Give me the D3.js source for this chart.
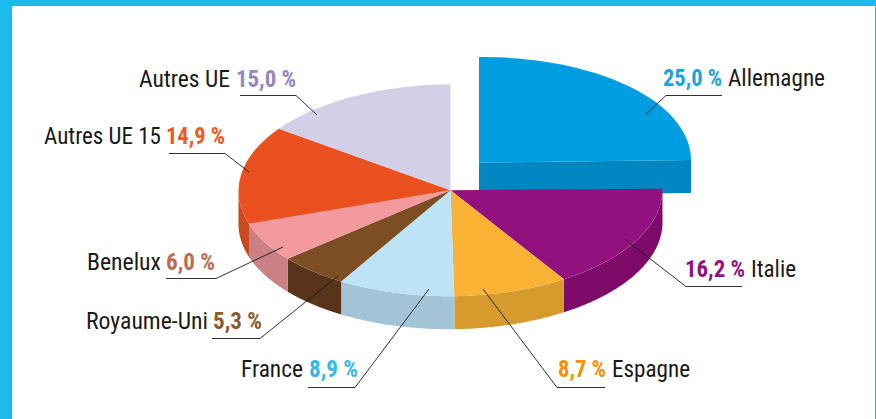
<!DOCTYPE html>
<html><head><meta charset="utf-8">
<script src="https://cdn.jsdelivr.net/npm/d3@7"></script>
<style>html,body{margin:0;padding:0;background:#fff}svg{display:block}
text{font-family:"Liberation Sans Narrow","Roboto Condensed","Liberation Sans",sans-serif;font-size:23.5px}</style>
</head><body><svg id="c" width="876" height="419"></svg>
<script>
// Data
const names = ["Allemagne","Italie","Espagne","France","Royaume-Uni","Benelux","Autres UE 15","Autres UE"];
const values = [25.0,16.2,8.7,8.9,5.3,6.0,14.9,15.0];
const valueLabels = ["25,0 %","16,2 %","8,7 %","8,9 %","5,3 %","6,0 %","14,9 %","15,0 %"];
// Styles
const topColors  = ["#009EE0","#93117E","#F9B233","#BDE3F7","#7D4E24","#F29A9E","#EA5020","#D3CFE6"];
const sideColors = ["#0086C0","#7E0A6A","#D69A2D","#A2C4D6","#59341A","#CB8083","#C84A1E","#B5B1C8"];
const textColors = ["#1BA3E0","#93117E","#F39200","#33B7EA","#8A5A2E","#BC6B52","#EA5B25","#9387BF"];
// Layout
const labelBoxes = [
 {vx:663, vw:59, nx:728, nw:97, y:86},
 {vx:685, vw:60, nx:751, nw:45, y:277},
 {vx:558, vw:48, nx:612, nw:78, y:377},
 {nx:241, nw:62, vx:309, vw:49, y:377},
 {nx:86,  nw:122,vx:213, vw:49, y:329},
 {nx:87,  nw:74, vx:166, vw:49, y:270},
 {nx:44,  nw:117,vx:166, vw:59, y:144},
 {nx:139, nw:91, vx:236, vw:60, y:87}
];
const leaders = [
 [[722,95.5],[666,95.5],[645,115]],
 [[742,286.5],[686,286.5],[625,239.5]],
 [[605,387.5],[557,387.5],[483,289]],
 [[308,387.5],[355,387.5],[429,289]],
 [[212,338.5],[260,338.5],[338,276]],
 [[166,278.5],[216,278.5],[283,247]],
 [[169,153.5],[225,153.5],[249,172]],
 [[240,95.5],[296,95.5],[317,115]]
];
const frameColor = "#1BBCEB";
const main = {cx:450.5, cy:190.2, rx:212, ry:106, depth:33, tilt:0.004, drift:-0.012};
const pulled = {cx:479, cy:162.6, rx:212, ry:105.5, depth:33, tilt:0.012, drift:0};

const svg = d3.select("#c");
svg.append("rect").attr("width",876).attr("height",6).attr("fill",frameColor);
svg.append("rect").attr("width",12).attr("height",419).attr("fill",frameColor);
svg.append("rect").attr("x",875).attr("width",1).attr("height",419).attr("fill",frameColor);

const slices = d3.pie().sort(null).startAngle(0).endAngle(2*Math.PI)(values);
// the printed pie is very slightly skewed: angles drift towards the bottom of the ellipse
const warp = (g,a)=>a+g.drift*(1-Math.cos(a))/2;
const geom = i => i===0 ? pulled : main;
const unitArc = g => d3.arc().innerRadius(0).outerRadius(1)
  .startAngle(d=>warp(g,d.startAngle)).endAngle(d=>warp(g,d.endAngle));
const px = (g,a,r=1)=>g.cx+r*g.rx*Math.sin(a);
const py = (g,a,r=1)=>g.cy-r*g.ry*Math.cos(a)-g.tilt*r*g.rx*Math.sin(a);

function sidePath(g,a0,a1){
  const lo=Math.max(warp(g,a0),Math.PI/2), hi=Math.min(warp(g,a1),3*Math.PI/2);
  if(hi<=lo) return null;
  const steps=d3.range(0,61).map(k=>lo+(hi-lo)*k/60);
  return d3.area().x(a=>px(g,a)).y0(a=>py(g,a)).y1(a=>py(g,a)+g.depth)(steps);
}
// Cut face of the pulled-out slice
{
  const g=pulled, a=slices[0].endAngle;
  const face=d3.area().x(r=>px(g,a,r)).y0(r=>py(g,a,r)).y1(r=>py(g,a,r)+g.depth)([0,1]);
  svg.append("path").attr("d",face).attr("fill",sideColors[0]);
}
// Sides of the pie
slices.forEach((s,i)=>{
  const d=sidePath(geom(i),s.startAngle,s.endAngle);
  if(d&&i>0) svg.append("path").attr("d",d).attr("fill",sideColors[i]);
});
// Tops
slices.forEach((s,i)=>{
  const g=geom(i);
  svg.append("path").attr("d",unitArc(g)(s))
    .attr("transform",`translate(${g.cx},${g.cy}) matrix(1,${-g.tilt},0,1,0,0) scale(${g.rx},${g.ry})`)
    .attr("fill",topColors[i]);
});
// Leaders
const line=d3.line();
leaders.forEach(l=>svg.append("path").attr("d",line(l)).attr("fill","none")
  .attr("stroke","#1a1a1a").attr("stroke-width",0.9));
// Labels
names.forEach((n,i)=>{
  const b=labelBoxes[i];
  svg.append("text").attr("x",b.nx).attr("y",b.y).attr("fill","#1a1a1a")
    .attr("textLength",b.nw).attr("lengthAdjust","spacingAndGlyphs").text(n);
  svg.append("text").attr("x",b.vx).attr("y",b.y).attr("fill",textColors[i])
    .style("font-weight","bold")
    .attr("textLength",b.vw).attr("lengthAdjust","spacingAndGlyphs").text(valueLabels[i]);
});
</script></body></html>
